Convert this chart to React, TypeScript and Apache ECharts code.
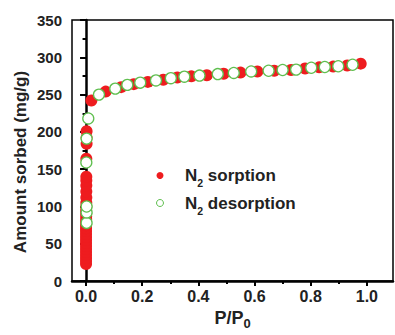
import React, { useEffect, useRef } from "react";
import * as echarts from "echarts";

const sorptionP = [0.0, 0.0, 0.0, 0.0, 0.0, 0.0, 0.0, 0.0, 0.0, 0.0, 0.0, 0.0, 0.0, 0.0, 0.0, 0.0005, 0.0005, 0.0005, 0.0005, 0.001, 0.001, 0.001, 0.001, 0.001, 0.001, 0.001, 0.001, 0.002, 0.002, 0.002,
  0.019, 0.07, 0.125, 0.17, 0.22, 0.275, 0.325, 0.375, 0.43, 0.49, 0.55, 0.61, 0.67, 0.73, 0.78, 0.83, 0.88, 0.93, 0.978];
const sorptionV = [23, 27, 31, 35, 39, 43, 47, 51, 55, 59, 63, 67, 71, 75, 79, 83, 87, 91, 95, 100, 105, 112, 120, 128, 135, 140, 164, 184, 192, 201,
  242, 254, 260, 264, 267, 270, 273, 274.5, 276, 278, 279.5, 281, 282, 283, 285, 286.5, 287.5, 289, 291.5];

const desorptionP = [0.002, 0.002, 0.002, 0.001, 0.002, 0.008,
  0.046, 0.104, 0.147, 0.193, 0.249, 0.302, 0.35, 0.404, 0.469, 0.526, 0.588, 0.65, 0.70, 0.748, 0.802, 0.85, 0.898, 0.949];
const desorptionV = [78, 92, 100, 159, 191, 218,
  250, 258, 263, 266, 269, 272, 274, 275.5, 277.5, 279, 281, 282, 283, 283.5, 286, 287, 288, 290];

const xMajorTicks = [0, 0.2, 0.4, 0.6, 0.8, 1.0];
const xMinorTicks = [0.1, 0.3, 0.5, 0.7, 0.9];

const RED = "#ee1c1f";
const GREEN = "#5fbf4f";
const FONT = "'Liberation Sans', Arial, sans-serif";

export default function App() {
  const ref = useRef<HTMLDivElement>(null);
  useEffect(() => {
    const chart = echarts.init(ref.current!, null, { renderer: "svg" });
    const sData = sorptionP.map((p, i) => [p, sorptionV[i]]);
    const dData = desorptionP.map((p, i) => [p, desorptionV[i]]);
    const rich = {
      n: { fontSize: 17, fontWeight: "bold", fontFamily: FONT, color: "#222", lineHeight: 26, verticalAlign: "middle" },
      s: { fontSize: 10.5, fontWeight: "bold", fontFamily: FONT, color: "#222", verticalAlign: "bottom", lineHeight: 12 },
    };
    chart.setOption({
      animation: false,
      grid: { left: 72, top: 20, right: 2, bottom: 51, show: true, borderColor: "#000", borderWidth: 1.5, backgroundColor: "transparent" },
      legend: {
        orient: "vertical",
        left: 151,
        top: 162,
        itemWidth: 40,
        itemHeight: 7,
        itemGap: 6,
        data: [
          { name: "sorption", icon: "circle", itemStyle: { color: RED, opacity: 1 } },
          { name: "desorption", icon: "circle", itemStyle: { color: "#fff", borderColor: GREEN, borderWidth: 1, opacity: 1 } },
        ],
        formatter: (name: string) => `{n|N}{s|2}{n| ${name}}`,
        textStyle: { rich },
      },
      xAxis: [
        {
          type: "value",
          position: "bottom",
          min: -0.05,
          max: 1.093,
          splitLine: { show: false },
          axisLine: { lineStyle: { color: "#000", width: 2.5 } },
          axisTick: { customValues: xMajorTicks, length: 5, lineStyle: { color: "#000", width: 2 } },
          axisLabel: {
            customValues: xMajorTicks,
            formatter: (v: number) => v.toFixed(1),
            fontSize: 16, fontWeight: "bold", fontFamily: FONT, color: "#222", margin: 7,
          },
          name: "{a|P/P}{b|0}",
          nameLocation: "middle",
          nameGap: 17,
          nameTextStyle: {
            rich: {
              a: { fontSize: 18, fontWeight: "bold", fontFamily: FONT, color: "#222", lineHeight: 24, verticalAlign: "middle" },
              b: { fontSize: 13, fontWeight: "bold", fontFamily: FONT, color: "#222", verticalAlign: "bottom", lineHeight: 14 },
            },
          },
        },
        {
          type: "value",
          position: "bottom",
          min: -0.05,
          max: 1.093,
          splitLine: { show: false },
          axisLine: { show: false },
          axisTick: { customValues: xMinorTicks, length: 3, lineStyle: { color: "#000", width: 2 } },
          axisLabel: { show: false },
        },
      ],
      yAxis: {
        type: "value",
        min: 0,
        max: 350,
        interval: 50,
        splitLine: { show: false },
        axisLine: { show: true, lineStyle: { color: "#000", width: 2.5 } },
        axisTick: { show: true, length: 6, lineStyle: { color: "#000", width: 2 } },
        minorTick: { show: true, splitNumber: 2, length: 3.5, lineStyle: { color: "#000", width: 2 } },
        axisLabel: { fontSize: 15, fontWeight: "bold", fontFamily: FONT, color: "#222", margin: 10 },
      },
      graphic: [
        {
          type: "text",
          x: 20,
          y: 162,
          rotation: Math.PI / 2,
          style: {
            text: "Amount sorbed (mg/g)",
            fontSize: 17,
            fontWeight: "bold",
            fontFamily: FONT,
            fill: "#222",
            align: "center",
            verticalAlign: "middle",
          },
        },
      ],
      series: [
        {
          name: "sorption",
          type: "scatter",
          data: sData,
          symbol: "circle",
          symbolSize: 12,
          itemStyle: { color: RED, opacity: 1 },
          z: 2,
        },
        {
          name: "desorption",
          type: "scatter",
          data: dData,
          symbol: "circle",
          symbolSize: 11,
          itemStyle: { color: "#fff", borderColor: GREEN, borderWidth: 1.3, opacity: 1 },
          z: 3,
        },
      ],
    });
    return () => chart.dispose();
  }, []);
  return <div ref={ref} style={{ width: 395, height: 335, position: "absolute", left: 0, top: 0 }} />;
}
